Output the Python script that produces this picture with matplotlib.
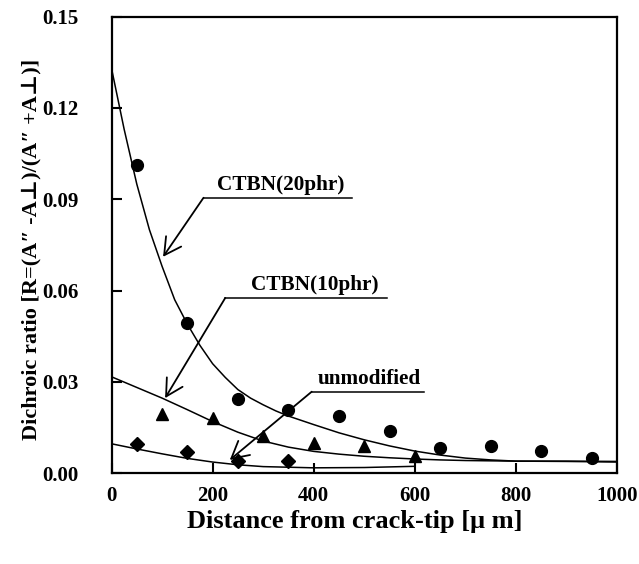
"""
Dichroic ratio vs. distance from crack tip for unmodified and CTBN-modified resins.
"""

import matplotlib
matplotlib.use("Agg")
import matplotlib.pyplot as plt

# Measured points
x_20phr = [50, 150, 250, 350, 450, 550, 650, 750, 850, 950]
r_20phr = [0.1013, 0.0495, 0.0243, 0.0209, 0.0188, 0.0140, 0.0082, 0.0090, 0.0074, 0.0049]

x_10phr = [100, 200, 300, 400, 500, 600]
r_10phr = [0.0195, 0.0181, 0.0123, 0.0101, 0.0090, 0.0057]

x_unmod = [50, 150, 250, 350]
r_unmod = [0.0096, 0.0070, 0.0041, 0.0041]

# Fitted curves
fit_x_20phr = [0, 25, 50, 75, 100, 125, 150, 175, 200, 225, 250, 275, 300, 325, 350, 400,
               450, 500, 550, 600, 650, 700, 750, 800, 900, 1000]
fit_r_20phr = [0.133, 0.113, 0.095, 0.080, 0.068, 0.057, 0.049, 0.042, 0.036, 0.0315, 0.0275,
               0.0247, 0.0225, 0.0205, 0.0188, 0.016, 0.0133, 0.011, 0.0090, 0.0073, 0.0060,
               0.0050, 0.0044, 0.0040, 0.0039, 0.0037]

fit_x_10phr = [0, 50, 100, 150, 200, 250, 300, 350, 400, 450, 500, 550, 600, 650, 700, 800,
               900, 1000]
fit_r_10phr = [0.0317, 0.0282, 0.0247, 0.0209, 0.0170, 0.0135, 0.0106, 0.0086, 0.0072, 0.0063,
               0.0056, 0.0051, 0.0047, 0.0044, 0.0042, 0.0040, 0.0040, 0.0039]

fit_x_unmod = [0, 50, 100, 150, 200, 250, 300, 400, 500, 600]
fit_r_unmod = [0.0097, 0.0080, 0.0064, 0.0049, 0.0037, 0.0028, 0.0022, 0.0018, 0.0019, 0.0023]

x_ticks = [0, 200, 400, 600, 800, 1000]
y_ticks = [0.00, 0.03, 0.06, 0.09, 0.12, 0.15]

SERIF = ['Liberation Serif', 'DejaVu Serif']
plt.rcParams['font.family'] = SERIF
plt.rcParams['font.weight'] = 'bold'

fig = plt.figure(figsize=(6.39, 5.64), dpi=100)
ax = fig.add_axes([0.1745, 0.1608, 0.7911, 0.8098])

# Fitted lines
ax.plot(fit_x_20phr, fit_r_20phr, color='black', lw=1.1)
ax.plot(fit_x_10phr, fit_r_10phr, color='black', lw=1.1)
ax.plot(fit_x_unmod, fit_r_unmod, color='black', lw=1.1)

# Data markers
ax.plot(x_20phr, r_20phr, 'o', color='black', ms=8.5)
ax.plot(x_10phr, r_10phr, '^', color='black', ms=9)
ax.plot(x_unmod, r_unmod, 'D', color='black', ms=7)

# Labels with underline + leader arrow
labels = [
    ('CTBN(20phr)', 182, 475, 0.0905, 102, 0.0711, 7),
    ('CTBN(10phr)', 225, 545, 0.0576, 106, 0.0247, 18),
    ('unmodified', 396, 618, 0.0268, 234, 0.0044, 4),
]
for text, ux0, ux1, uy, tipx, tipy, shift in labels:
    ax.plot([ux0, ux1], [uy, uy], color='black', lw=1.1)
    ax.annotate('', xy=(tipx, tipy), xytext=(ux0, uy),
                arrowprops=dict(arrowstyle='->, head_length=0.55, head_width=0.3',
                                lw=1.3, color='black', shrinkA=0, shrinkB=0,
                                mutation_scale=22))
    ax.text((ux0 + ux1) / 2 + shift, uy + 0.0010, text, ha='center', va='bottom',
            fontsize=15.3, fontweight='bold')

ax.set_xlim(0, 1000)
ax.set_ylim(0, 0.15)
ax.set_xticks(x_ticks)
ax.set_yticks(y_ticks)
ax.set_xticklabels([str(v) for v in x_ticks])
ax.set_yticklabels([f'{v:.2f}' for v in y_ticks])

ax.tick_params(axis='both', direction='in', length=7, width=1.5, labelsize=15)
ax.tick_params(axis='x', pad=9)
ax.tick_params(axis='y', pad=24)
for lab in ax.get_xticklabels() + ax.get_yticklabels():
    lab.set_fontweight('bold')

for s in ax.spines.values():
    s.set_linewidth(1.6)

fig.text(0.555, 0.0745, 'Distance from crack-tip [\u03bc m]', ha='center', va='center',
         fontsize=19, fontweight='bold')
fig.text(0.0485, 0.557, 'Dichroic ratio [R=(A\u2033 -A\u22a5)/(A\u2033 +A\u22a5)]',
         ha='center', va='center', rotation=90, fontsize=16, fontweight='bold')

plt.savefig('out.png', dpi=100)
